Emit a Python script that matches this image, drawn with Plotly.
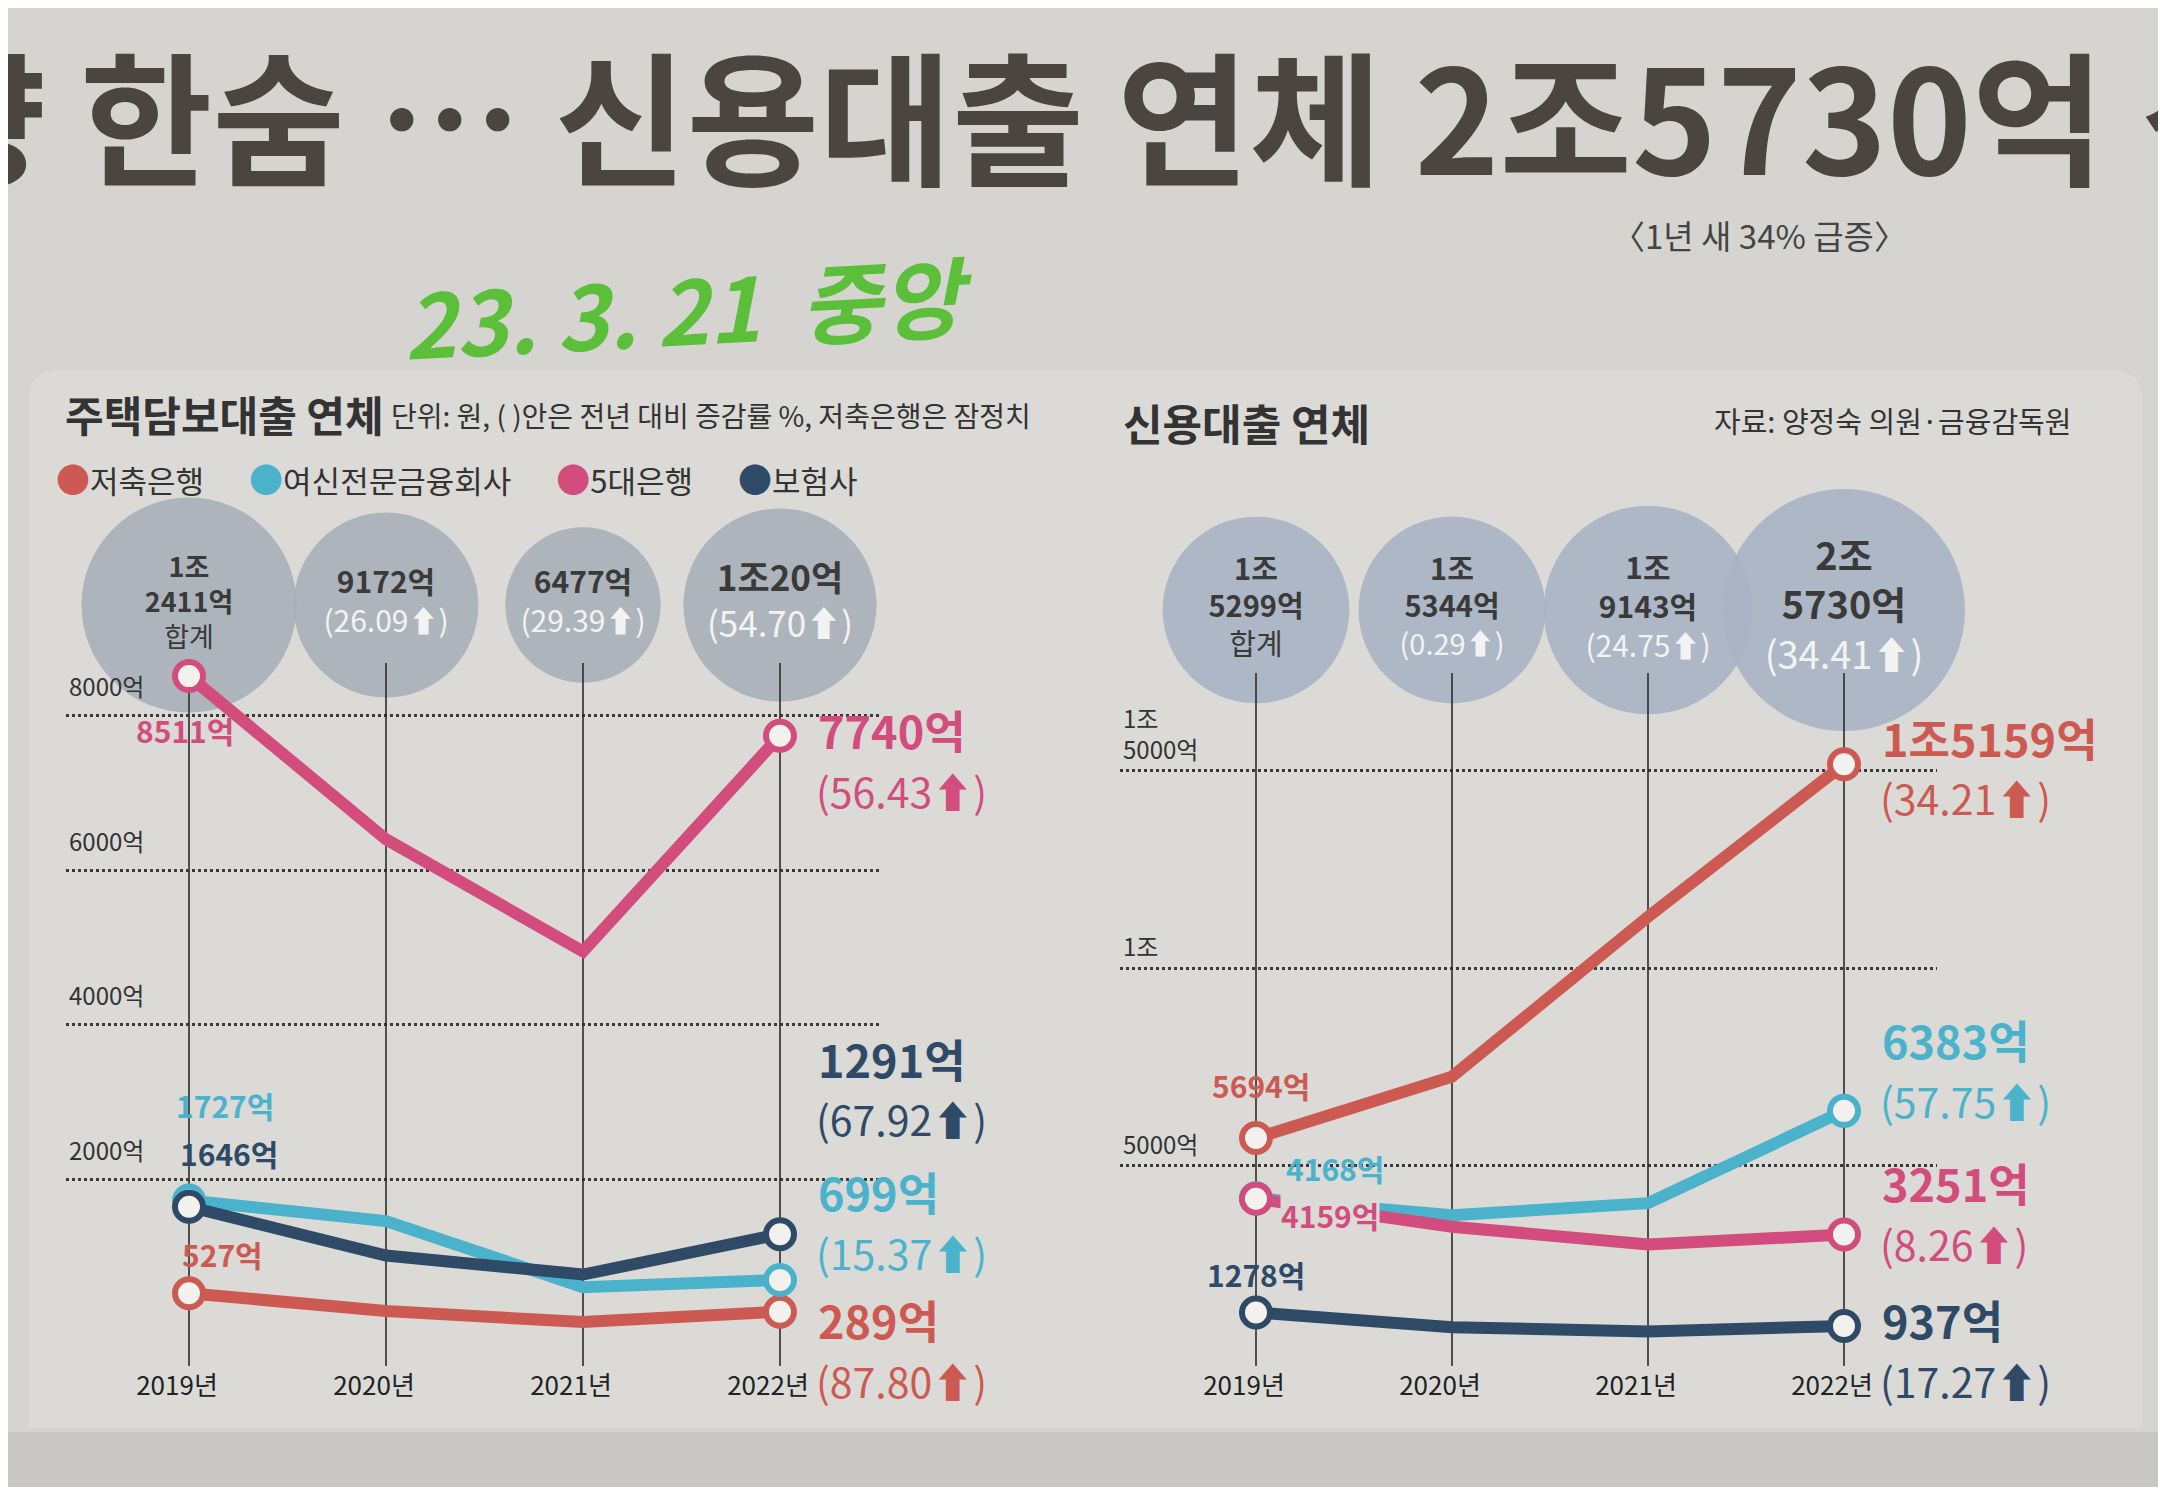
import plotly.graph_objects as go

# ---- data (억원) ----
years = ["2019년", "2020년", "2021년", "2022년"]
banks = ["저축은행", "여신전문금융회사", "5대은행", "보험사"]
colors = ["#cd5a52", "#4bb2cb", "#d24d7d", "#2f4a66"]

# 주택담보대출 연체
mort_savings = [527, 297, 154, 289]
mort_card = [1727, 1460, 606, 699]
mort_bank5 = [8511, 6400, 4948, 7740]
mort_insur = [1646, 1015, 769, 1291]
mort_total = [12411, 9172, 6477, 10020]
mort_total_chg = [None, 26.09, 29.39, 54.70]
mort_chg_2022 = [87.80, 15.37, 56.43, 67.92]
mort_ticks = [2000, 4000, 6000, 8000]

# 신용대출 연체
cred_savings = [5694, 7250, 11295, 15159]
cred_card = [4168, 3740, 4046, 6383]
cred_bank5 = [4159, 3450, 3003, 3251]
cred_insur = [1278, 904, 799, 937]
cred_total = [15299, 15344, 19143, 25730]
cred_total_chg = [None, 0.29, 24.75, 34.41]
cred_chg_2022 = [34.21, 57.75, 8.26, 17.27]
cred_ticks = [5000, 10000, 15000]

# ---- layout helpers (pixels of the 2166x1487 page) ----
W, H = 2166, 1487
Y_TOP, Y_BOT = 470, 1358
FONT = "Noto Sans CJK KR, Noto Sans, sans-serif"
PAPER = "#d6d4d0"
PANEL = "#dbdad7"
INK = "#333333"


def fx(px):
    return px / W


def fy(py):
    return 1 - py / H


def val_at(py, zero_py, per_k):
    return (zero_py - py) / per_k * 1000


def eok(v, br=True):
    jo, rest = divmod(v, 10000)
    if jo == 0:
        return f"{rest}억"
    if rest == 0:
        return f"{jo}조"
    sep = "<br>" if (br and rest >= 1000) else ""
    return f"{jo}조{sep}{rest}억"


def tick_label(v):
    # two-line labels get an empty line below so they sit above the grid line
    t = eok(v)
    return t + "<br>\u00a0" if "<br>" in t else t


def bubble_text(total, chg):
    if chg is None:
        second = "합계"
    else:
        second = f"<span style='color:#f3f3f3'>({chg:.2f}⬆)</span>"
    return f"<b>{eok(total)}</b><br>{second}"


def note(fig, text, px, py, size, color=INK, xanchor="left", **kw):
    fig.add_annotation(x=fx(px), y=fy(py), xref="paper", yref="paper", xanchor=xanchor,
                       yanchor="middle", showarrow=False, text=text,
                       font=dict(size=size, color=color), **kw)


charts = [
    dict(series=[mort_savings, mort_card, mort_bank5, mort_insur], total=mort_total,
         total_chg=mort_total_chg, chg=mort_chg_2022, ticks=mort_ticks,
         zero=1326, per_k=77.3, x0=181, step=197, xdom=(58, 873),
         bubble_py=597, sizeref=0.537, bubble_col="#a8afb9", bubble_font=[27, 30, 30, 35],
         vtop=655, tickshift=-28, halo=[],
         first=[(33, 39), (36, 96), (-4, -54), (40, 54)],
         last=[-8, 88, 6, 176], last_dx=36),
    dict(series=[cred_savings, cred_card, cred_bank5, cred_insur], total=cred_total,
         total_chg=cred_total_chg, chg=cred_chg_2022, ticks=cred_ticks,
         zero=1355, per_k=39.5, x0=1248, step=196, xdom=(1112, 1929),
         bubble_py=602, sizeref=0.879, bubble_col="#a8b3c3", bubble_font=[29, 29, 30, 38],
         vtop=665, tickshift=-20, halo=[2],
         first=[(5, 53), (79, 30), (74, -16), (0, 39)],
         last=[27, 71, 52, 6], last_dx=36),
]

fig = go.Figure()

# background panel
r = 30
px0, py0, px1, py1 = 21, 362, 2134, 1420
fig.add_shape(type="rect", xref="paper", yref="paper", x0=0, x1=1, y0=0, y1=fy(1424),
              fillcolor="#c9c7c3", line_width=0, layer="below")
fig.add_shape(type="path", xref="paper", yref="paper", layer="below", line_width=0,
              fillcolor=PANEL,
              path=(f"M {fx(px0)},{fy(py0 + r)} Q {fx(px0)},{fy(py0)} {fx(px0 + r)},{fy(py0)} "
                    f"L {fx(px1 - r)},{fy(py0)} Q {fx(px1)},{fy(py0)} {fx(px1)},{fy(py0 + r)} "
                    f"L {fx(px1)},{fy(py1)} L {fx(px0)},{fy(py1)} Z"))

for n, ch in enumerate(charts):
    xa = "x" if n == 0 else "x2"
    ya = "y" if n == 0 else "y2"
    xa_key = "xaxis" if n == 0 else "xaxis2"
    ya_key = "yaxis" if n == 0 else "yaxis2"
    ylo = val_at(Y_BOT, ch["zero"], ch["per_k"])
    yhi = val_at(Y_TOP, ch["zero"], ch["per_k"])

    # total bubbles
    by = val_at(ch["bubble_py"], ch["zero"], ch["per_k"])
    fig.add_trace(go.Scatter(
        x=years, y=[by] * len(years), xaxis=xa, yaxis=ya, mode="markers+text",
        marker=dict(size=ch["total"], sizemode="area", sizeref=ch["sizeref"],
                    color=ch["bubble_col"], opacity=0.9, line_width=0),
        text=[bubble_text(t, c) for t, c in zip(ch["total"], ch["total_chg"])],
        textposition="middle center",
        textfont=dict(size=ch["bubble_font"], color="#3a3a3a", family=FONT),
        cliponaxis=False, hoverinfo="skip", showlegend=False))

    # year guide lines
    vx, vy = [], []
    for yr in years:
        vx += [yr, yr, None]
        vy += [ylo, val_at(ch["vtop"], ch["zero"], ch["per_k"]), None]
    fig.add_trace(go.Scatter(x=vx, y=vy, xaxis=xa, yaxis=ya, mode="lines",
                             line=dict(color="#2b2b2b", width=1.6),
                             hoverinfo="skip", showlegend=False))

    # series lines
    for k, vals in enumerate(ch["series"]):
        fig.add_trace(go.Scatter(x=years, y=vals, xaxis=xa, yaxis=ya, mode="lines",
                                 line=dict(color=colors[k], width=12),
                                 name=banks[k], showlegend=False))
    for k, vals in enumerate(ch["series"]):
        fig.add_trace(go.Scatter(x=[years[0], years[-1]], y=[vals[0], vals[-1]],
                                 xaxis=xa, yaxis=ya, mode="markers",
                                 marker=dict(size=28, color="#f2f1ee",
                                             line=dict(color=colors[k], width=6)),
                                 cliponaxis=False, showlegend=False))

    # point labels
    for k, vals in enumerate(ch["series"]):
        dx, dy = ch["first"][k]
        fig.add_annotation(x=years[0], y=vals[0], xref=xa, yref=ya, showarrow=False,
                           text=f"<b>{eok(vals[0], False)}</b>", xshift=dx, yshift=dy,
                           bgcolor=PANEL if k in ch["halo"] else None, borderpad=0,
                           font=dict(size=30, color=colors[k]))
        ny = ch["last"][k]
        fig.add_annotation(x=years[-1], y=vals[-1], xref=xa, yref=ya, showarrow=False,
                           xanchor="left", text=f"<b>{eok(vals[-1], False)}</b>",
                           xshift=ch["last_dx"], yshift=ny,
                           font=dict(size=45, color=colors[k]))
        fig.add_annotation(x=years[-1], y=vals[-1], xref=xa, yref=ya, showarrow=False,
                           xanchor="left", text=f"({ch['chg'][k]:.2f}⬆)",
                           xshift=ch["last_dx"] - 2, yshift=ny - 60,
                           font=dict(size=41, color=colors[k]))

    xr = [(ch["xdom"][0] - ch["x0"]) / ch["step"], (ch["xdom"][1] - ch["x0"]) / ch["step"]]
    fig.update_layout({
        xa_key: dict(domain=[fx(ch["xdom"][0]), fx(ch["xdom"][1])], anchor=ya,
                     type="category", categoryorder="array", categoryarray=years,
                     range=xr, showgrid=False, showline=False, zeroline=False, ticks="",
                     tickfont=dict(size=26, color="#222"), ticklabelstandoff=2,
                     ticklabelshift=-12),
        ya_key: dict(domain=[fy(Y_BOT), fy(Y_TOP)], anchor=xa, range=[ylo, yhi],
                     tickvals=ch["ticks"], ticktext=[tick_label(t) for t in ch["ticks"]],
                     showgrid=True, gridcolor="#3a3a3a", griddash="dot", gridwidth=2.5,
                     zeroline=False, showline=False, ticks="",
                     ticklabelposition="inside", ticklabelshift=ch["tickshift"],
                     tickfont=dict(size=24, color=INK)),
    })

# legend entries: coloured dot carried in the name, symbol hidden
for k, b in enumerate(banks):
    fig.add_trace(go.Scatter(
        x=[None], y=[None], mode="markers",
        name=f"<span style='color:{colors[k]};font-size:34px'>●</span>{b}",
        marker=dict(size=1, color="rgba(0,0,0,0)")))

# titles and notes
note(fig, "<b>주택담보대출 연체</b>", 55, 405, 42)
note(fig, "단위: 원, ( )안은 전년 대비 증감률 %, 저축은행은 잠정치", 381, 407, 28)
note(fig, "<b>신용대출 연체</b>", 1113, 414, 43)
note(fig, "자료: 양정숙 의원·금융감독원", 2065, 412, 29, xanchor="right")

# headline
HEAD = "#4a4540"
note(fig, "<b>향</b>", 40, 104, 144, HEAD, xanchor="right")
note(fig, "<b>한숨 ⋯ 신용대출 연체 2조5730억</b>", 70, 104, 144, HEAD)
note(fig, "<b>상</b>", 2132, 104, 144, HEAD)
note(fig, "〈1년 새 34% 급증〉", 1751, 227, 33, "#444", xanchor="center")
note(fig, "<b><i>23. 3. 21  중앙</i></b>", 680, 298, 88, "#5cbf3a", xanchor="center",
     textangle=-3)

fig.update_layout(
    width=W, height=H, margin=dict(l=0, r=0, t=0, b=0),
    paper_bgcolor=PAPER, plot_bgcolor="rgba(0,0,0,0)",
    font=dict(family=FONT, color=INK),
    showlegend=True,
    legend=dict(orientation="h", x=fx(8), y=fy(473), xanchor="left", yanchor="middle",
                font=dict(size=31, color=INK), bgcolor="rgba(0,0,0,0)",
                itemwidth=30, tracegroupgap=0),
)

fig.write_html("out.html")
